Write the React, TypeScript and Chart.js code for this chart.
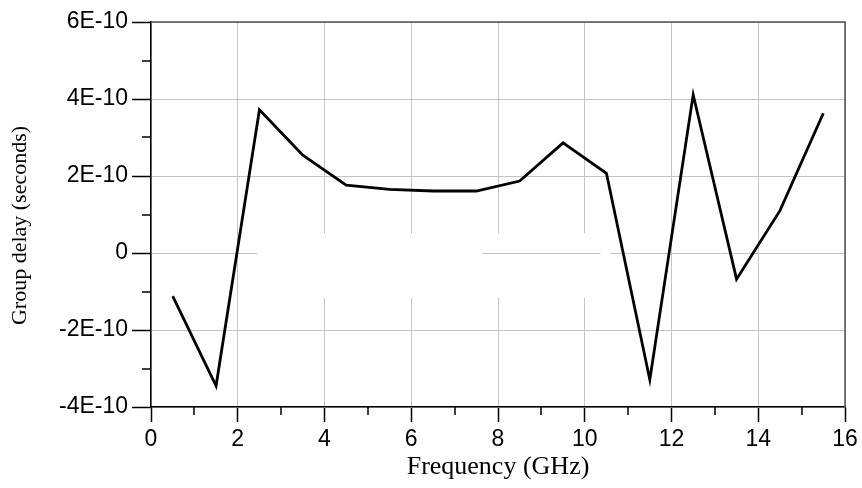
import React, { useEffect, useRef } from "react";
import { Chart, registerables } from "chart.js";

Chart.register(...registerables);

const frequencyGHz = [0.5, 1.5, 2.5, 3.5, 4.5, 5.5, 6.5, 7.5, 8.5, 9.5, 10.5, 11.5, 12.5, 13.5, 14.5, 15.5];
const groupDelay = [
  -1.12e-10, -3.45e-10, 3.72e-10, 2.54e-10, 1.76e-10, 1.65e-10, 1.61e-10, 1.61e-10,
  1.87e-10, 2.86e-10, 2.07e-10, -3.29e-10, 4.11e-10, -0.68e-10, 1.1e-10, 3.63e-10,
];
const xMinorTicks = [1, 3, 5, 7, 9, 11, 13, 15];
const yMinorTicks = [-3e-10, -1e-10, 1e-10, 3e-10, 5e-10];
// erased (blank) patch of the original figure, in data units
const erasedPatch = { x0: 2.45, x1: 10.59, y0: 0.51e-10, y1: -1.16e-10 };
const zeroLineKeep = { x0: 7.64, x1: 10.36 };

function fmtY(v: number): string {
  const n = Math.round(v / 1e-10);
  return n === 0 ? "0" : `${n}E-10`;
}

const decorPlugin = {
  id: "decor",
  beforeDatasetsDraw(chart: any) {
    const { ctx, scales } = chart;
    const x = scales.x, y = scales.y;
    ctx.save();
    ctx.fillStyle = "#ffffff";
    const px0 = x.getPixelForValue(erasedPatch.x0);
    const px1 = x.getPixelForValue(erasedPatch.x1);
    const py0 = y.getPixelForValue(erasedPatch.y0);
    const py1 = y.getPixelForValue(erasedPatch.y1);
    ctx.fillRect(px0, py0, px1 - px0, py1 - py0);
    ctx.strokeStyle = "#c4c4c4";
    ctx.lineWidth = 1;
    const zy = Math.round(y.getPixelForValue(0)) + 0.5;
    ctx.beginPath();
    ctx.moveTo(x.getPixelForValue(zeroLineKeep.x0), zy);
    ctx.lineTo(x.getPixelForValue(zeroLineKeep.x1), zy);
    ctx.stroke();
    // top and right frame
    const a = chart.chartArea;
    ctx.strokeStyle = "#505050";
    ctx.lineWidth = 1.5;
    ctx.beginPath();
    ctx.moveTo(a.left, a.top);
    ctx.lineTo(a.right, a.top);
    ctx.lineTo(a.right, a.bottom);
    ctx.stroke();
    ctx.restore();
  },
  afterDraw(chart: any) {
    const { ctx, scales, chartArea } = chart;
    ctx.save();
    ctx.strokeStyle = "#000";
    ctx.lineWidth = 1.5;
    ctx.beginPath();
    for (const v of xMinorTicks) {
      const px = Math.round(scales.x.getPixelForValue(v));
      ctx.moveTo(px, chartArea.bottom);
      ctx.lineTo(px, chartArea.bottom + 8);
    }
    for (const v of yMinorTicks) {
      const py = Math.round(scales.y.getPixelForValue(v));
      ctx.moveTo(chartArea.left - 9, py);
      ctx.lineTo(chartArea.left, py);
    }
    ctx.stroke();
    ctx.restore();
  },
};

export default function App() {
  const ref = useRef<HTMLCanvasElement | null>(null);
  useEffect(() => {
    if (!ref.current) return;
    const chart = new Chart(ref.current, {
      type: "line",
      data: {
        datasets: [
          {
            data: frequencyGHz.map((f, i) => ({ x: f, y: groupDelay[i] })),
            borderColor: "#000",
            borderWidth: 2.8,
            pointRadius: 0,
            tension: 0,
            fill: false,
          },
        ],
      },
      options: {
        animation: false,
        responsive: true,
        maintainAspectRatio: false,
        layout: { padding: { top: 22, right: 17, left: 0, bottom: 0 } },
        plugins: { legend: { display: false }, tooltip: { enabled: false } },
        scales: {
          x: {
            type: "linear",
            min: 0,
            max: 16,
            afterFit: (s: any) => { s.height = 81; },
            ticks: {
              stepSize: 2,
              color: "#000",
              padding: 4,
              font: { family: "'Liberation Sans', Arial, sans-serif", size: 23 },
              maxRotation: 0,
            },
            grid: {
              color: "#c4c4c4",
              lineWidth: 1,
              tickColor: "#000",
              tickLength: 15,
              tickWidth: 1.5,
            },
            border: { color: "#000", width: 1.5 },
            title: {
              display: true,
              text: "Frequency (GHz)",
              color: "#000",
              font: { family: "'Liberation Serif', 'Times New Roman', serif", size: 26 },
              padding: { top: 0, bottom: 5 },
            },
          },
          y: {
            type: "linear",
            min: -4e-10,
            max: 6e-10,
            afterFit: (s: any) => { s.width = 151; },
            ticks: {
              stepSize: 2e-10,
              color: "#000",
              padding: 4,
              font: { family: "'Liberation Sans', Arial, sans-serif", size: 23 },
              callback: (v: any) => fmtY(Number(v)),
            },
            grid: {
              color: "#c4c4c4",
              lineWidth: 1,
              tickColor: "#000",
              tickLength: 19,
              tickWidth: 1.5,
            },
            border: { color: "#000", width: 1.5 },
            title: {
              display: true,
              text: "Group delay (seconds)    ",
              color: "#000",
              font: { family: "'Liberation Serif', 'Times New Roman', serif", size: 22 },
              padding: { top: 7, bottom: 0 },
            },
          },
        },
      },
      plugins: [decorPlugin],
    });
    return () => chart.destroy();
  }, []);
  return (
    <div style={{ position: "fixed", left: 0, top: 0, width: 862, height: 488, background: "#fff" }}>
      <canvas ref={ref} />
    </div>
  );
}
